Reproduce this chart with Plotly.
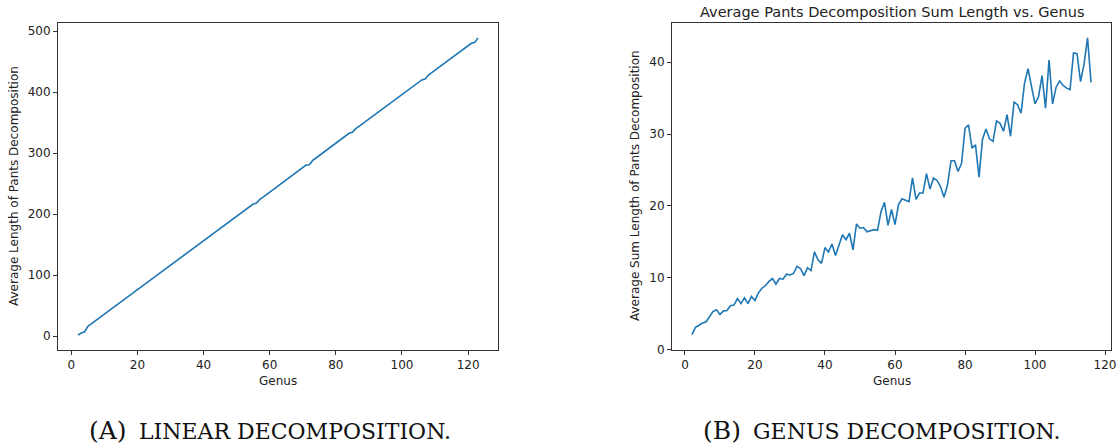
import plotly.graph_objects as go

# ---- data: (A) linear decomposition ----
genus_a = list(range(2, 124))
length_a = [
    1.5, 5, 7, 16, 20, 24, 28, 32, 36, 40,          # 2-11
    44, 48, 52, 56, 60, 64, 68, 72, 76, 80,          # 12-21
    84, 88, 92, 96, 100, 104, 108, 112, 116, 120,    # 22-31
    124, 128, 132, 136, 140, 144, 148, 152, 156, 160,  # 32-41
    164, 168, 172, 176, 180, 184, 188, 192, 196, 200,  # 42-51
    204, 208, 212, 216.5, 218, 224, 228, 232, 236, 240,  # 52-61
    244, 248, 252, 256, 260, 264, 268, 272, 276, 280.5,  # 62-71
    281, 288, 292, 296, 300, 304, 308, 312, 316, 320,  # 72-81
    324, 328, 332.5, 334, 340, 344, 348, 352, 356, 360,  # 82-91
    364, 368, 372, 376, 379, 384, 388, 392, 396, 400,  # 92-101
    404, 408, 412, 416, 420, 421.5, 428, 432, 436, 440,  # 102-111
    444, 448, 452, 456, 460, 464, 468, 472, 476, 480,  # 112-121
    481.5, 489,                                        # 122-123
]

# ---- data: (B) genus decomposition ----
genus_b = list(range(2, 117))
length_b = [
    2.1, 3.1, 3.4, 3.7, 3.85, 4.6, 5.3, 5.55, 4.9, 5.4,      # 2-11
    5.45, 6.1, 6.2, 7.1, 6.4, 7.2, 6.4, 7.4, 6.85, 7.9,      # 12-21
    8.55, 8.9, 9.5, 9.9, 9.1, 9.9, 9.8, 10.5, 10.4, 10.6,    # 22-31
    11.6, 11.3, 10.3, 11.4, 11.0, 13.6, 12.5, 12.0, 14.2, 13.6,  # 32-41
    14.7, 13.1, 14.6, 16.0, 15.3, 16.2, 13.9, 17.5, 16.9, 17.0,  # 42-51
    16.4, 16.6, 16.7, 16.6, 19.2, 20.5, 17.3, 19.5, 17.4, 20.2,  # 52-61
    21.0, 20.8, 20.6, 23.9, 20.9, 21.8, 21.8, 24.5, 22.35, 23.9,  # 62-71
    23.55, 22.7, 21.2, 22.95, 26.3, 26.3, 24.8, 25.9, 30.8, 31.3,  # 72-81
    28.05, 28.5, 24.0, 29.3, 30.7, 29.35, 29.0, 31.85, 31.5, 30.4,  # 82-91
    32.7, 29.7, 34.45, 34.1, 32.9, 37.1, 39.1, 36.6, 34.2, 35.2,  # 92-101
    38.15, 33.6, 40.3, 34.2, 36.5, 37.4, 36.8, 36.4, 36.2, 41.3,  # 102-111
    41.2, 37.3, 39.7, 43.4, 37.2,                            # 112-116
]

x_ticks = [0, 20, 40, 60, 80, 100, 120]
y_ticks_a = [0, 100, 200, 300, 400, 500]
y_ticks_b = [0, 10, 20, 30, 40]

title_b = "Average Pants Decomposition Sum Length vs. Genus"
xlabel = "Genus"
ylabel_a = "Average Length of Pants Decomposition"
ylabel_b = "Average Sum Length of Pants Decomposition"
caption_a = ("(A)", "linear decomposition.")
caption_b = ("(B)", "genus decomposition.")


def pad(vals, frac=0.05):
    lo, hi = min(vals), max(vals)
    m = (hi - lo) * frac
    return [lo - m, hi + m]


W, H = 1120, 448
LINE = "#1f77b4"
FONT = "DejaVu Sans"
TXT = "#222222"

fig = go.Figure()
fig.add_trace(go.Scatter(x=genus_a, y=length_a, mode="lines",
                         line=dict(color=LINE, width=1.6),
                         xaxis="x", yaxis="y", showlegend=False))
fig.add_trace(go.Scatter(x=genus_b, y=length_b, mode="lines",
                         line=dict(color=LINE, width=1.6),
                         xaxis="x2", yaxis="y2", showlegend=False))

rb = pad(length_b)
rb[0] = min(rb[0], -0.05)

ydom = [(H - 350) / H, (H - 23) / H]
axis_common = dict(showgrid=False, zeroline=False, showline=True, mirror=True,
                   automargin=False,
                   linecolor="#333333", linewidth=1, ticks="outside", ticklen=4,
                   tickwidth=1, tickcolor="#333333",
                   tickfont=dict(family=FONT, size=12, color=TXT))

fig.update_layout(
    width=W, height=H,
    margin=dict(l=0, r=0, t=0, b=0, autoexpand=False),
    paper_bgcolor="white", plot_bgcolor="white",
    xaxis=dict(domain=[58 / W, 498 / W], range=pad(genus_a), tickvals=x_ticks,
               anchor="y", **axis_common),
    yaxis=dict(domain=ydom, range=pad(length_a), tickvals=y_ticks_a,
               anchor="x", **axis_common),
    xaxis2=dict(domain=[672 / W, 1111 / W], range=pad(genus_b), tickvals=x_ticks,
                anchor="y2", **axis_common),
    yaxis2=dict(domain=ydom, range=rb, tickvals=y_ticks_b,
                anchor="x2", **axis_common),
)

ann = []
lab = dict(family=FONT, size=12, color=TXT)


def paper(px, py, **kw):
    d = dict(x=px / W, y=(H - py) / H, xref="paper", yref="paper", showarrow=False,
             borderpad=0)
    d.update(kw)
    return d


ann.append(paper((58 + 498) / 2, 381, text=xlabel, font=lab, xanchor="center", yanchor="middle"))
ann.append(paper((672 + 1111) / 2, 381, text=xlabel, font=lab, xanchor="center", yanchor="middle"))
ann.append(paper(14, 186, text=ylabel_a, font=lab, textangle=-90, xanchor="center", yanchor="middle"))
ann.append(paper(635, 186, text=ylabel_b, font=lab, textangle=-90, xanchor="center", yanchor="middle"))
ann.append(paper((672 + 1111) / 2, 12, text=title_b, font=dict(family=FONT, size=14.5, color=TXT),
                 xanchor="center", yanchor="middle"))

head_font = dict(family="DejaVu Serif", size=25, color="#111111")
rest_font = dict(family="DejaVu Serif", size=22, color="#111111")
for (head, rest), head_right in ((caption_a, 128), (caption_b, 742)):
    ann.append(paper(head_right, 430, text=head, font=head_font, xanchor="right", yanchor="middle"))
    ann.append(paper(head_right + 10, 431, text=rest.upper(), font=rest_font,
                     xanchor="left", yanchor="middle"))
fig.update_layout(annotations=ann)

fig.write_html("out.html")
